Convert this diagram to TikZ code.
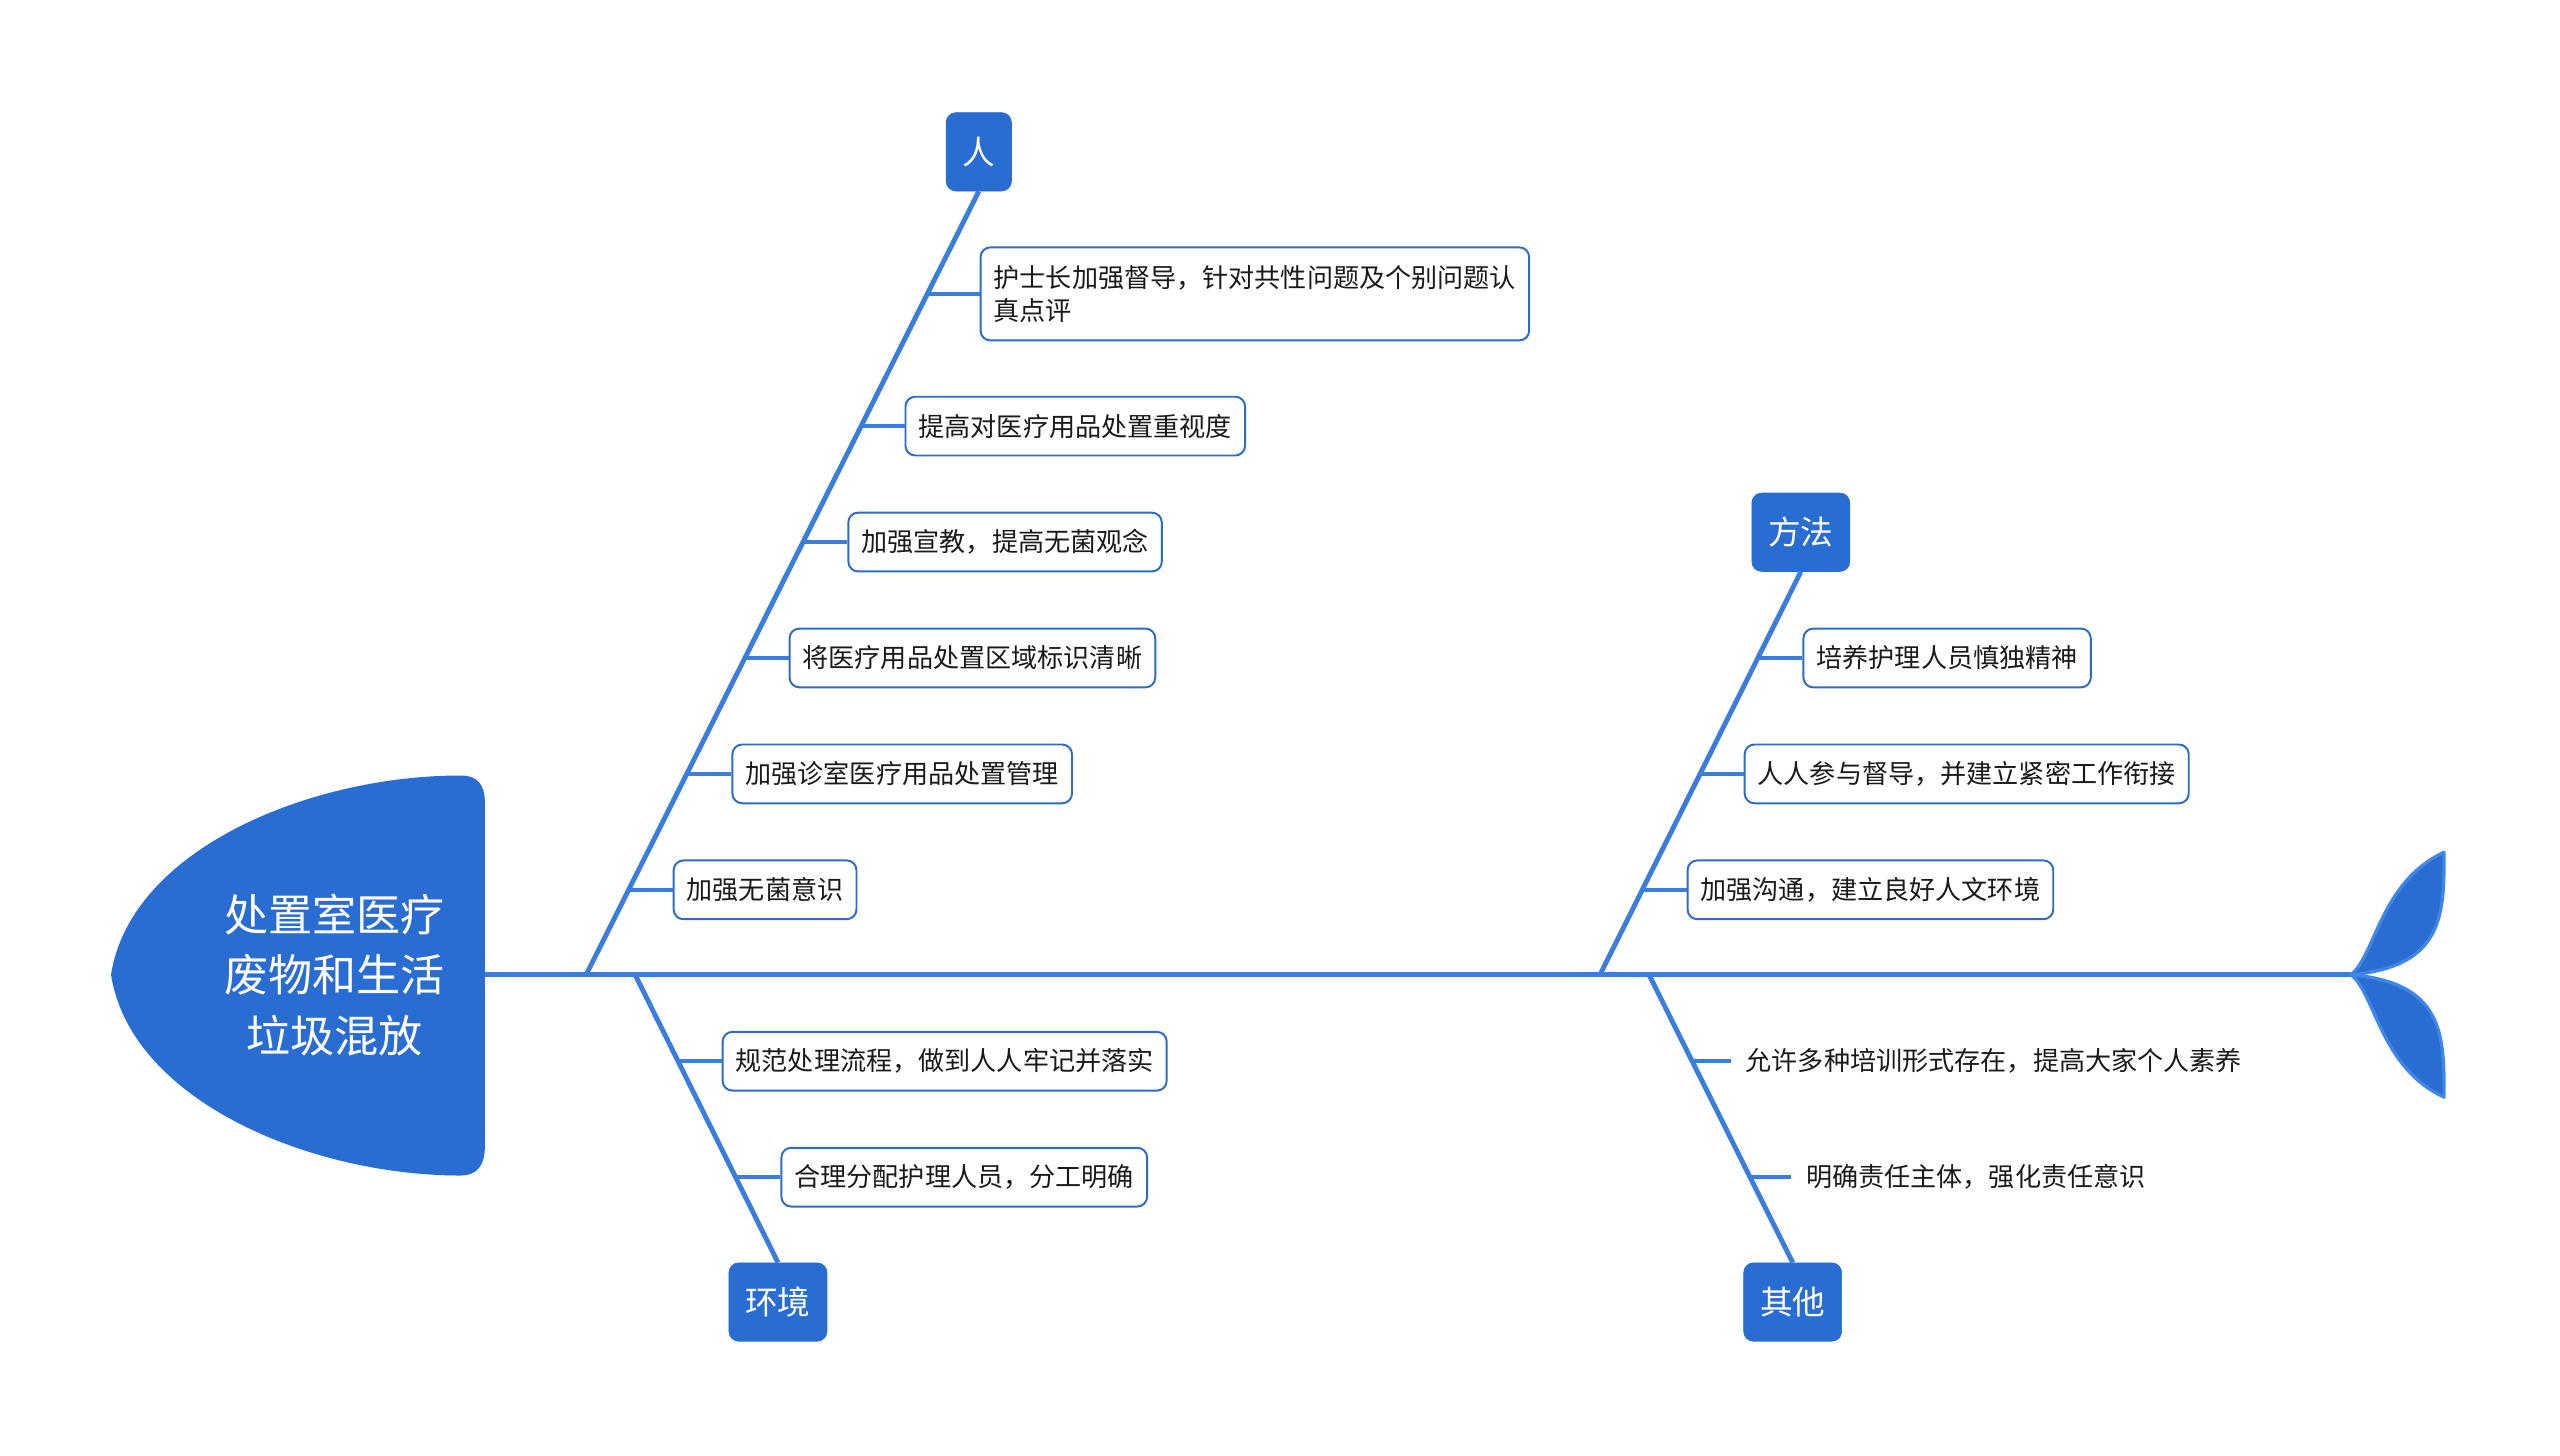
\documentclass[tikz,border=0pt]{standalone}
\usepackage{fontspec}
\setmainfont{Noto Sans CJK SC}
\definecolor{bonec}{HTML}{3B7DDB}
\definecolor{nodefill}{HTML}{2A6DD2}
\definecolor{boxline}{HTML}{2E6BC6}
\definecolor{finline}{HTML}{3F87E6}
\definecolor{txt}{HTML}{1A1A1A}
\begin{document}
\begin{tikzpicture}[x=1pt,y=-1pt,
  bone/.style={draw=bonec,line width=3pt},
  stub/.style={draw=bonec,line width=2.6pt},
  cat/.style={fill=nodefill,draw=nodefill,rounded corners=6pt,text=white,
    font=\fontsize{20pt}{24pt}\selectfont,minimum height=48pt,inner xsep=10pt,inner ysep=0pt},
  item/.style={draw=boxline,line width=1.2pt,fill=white,rounded corners=6pt,anchor=west,
    text=txt,font=\fontsize{16pt}{20pt}\selectfont,minimum height=36pt,inner xsep=8pt,inner ysep=0pt},
  plaintext/.style={anchor=west,text=txt,font=\fontsize{16pt}{20pt}\selectfont,inner xsep=9pt,inner ysep=0pt}
]
\useasboundingbox (0,0) rectangle (1568,891.2);

% head
\fill[nodefill] (68,597) .. controls (80,520) and (190,475) .. (282,475)
  .. controls (293,475) and (297,481) .. (297,492) -- (297,702)
  .. controls (297,713) and (293,720) .. (282,720)
  .. controls (190,720) and (80,674) .. (68,597) -- cycle;
\node[text=white,align=center,font=\fontsize{27pt}{37pt}\selectfont] (head) at (205,597)
  {处置室医疗\\废物和生活\\垃圾混放};

% spine
\coordinate (spineL) at (297,597);
\coordinate (J) at (1440,597);
\draw[bone] (spineL) -- (J);

% tail
\filldraw[fill=nodefill,draw=finline,line width=2pt,line join=round]
  (J) .. controls (1455,585) and (1458,540) .. (1497,522)
  .. controls (1497,560) and (1497,592) .. (J) -- cycle;
\filldraw[fill=nodefill,draw=finline,line width=2pt,line join=round]
  (J) .. controls (1455,609) and (1458,654) .. (1497,672)
  .. controls (1497,634) and (1497,602) .. (J) -- cycle;

% categories
\node[cat] (ren) at (599.5,93) {人};
\node[cat] (fangfa) at (1103,326) {方法};
\node[cat] (huanjing) at (476.5,797.5) {环境};
\node[cat] (qita) at (1098,797.5) {其他};

% bone bases
\coordinate (b1) at (359,597);
\coordinate (b2) at (389,597);
\coordinate (b3) at (980,597);
\coordinate (b4) at (1010,597);
\draw[bone] (b1) -- (ren.south);
\draw[bone] (b2) -- (huanjing.north);
\draw[bone] (b3) -- (fangfa.south);
\draw[bone] (b4) -- (qita.north);

% items
\node[item,align=left,minimum height=57pt] (i1) at (600,180)
  {护士长加强督导，针对共性问题及个别问题认\\真点评};
\node[item] (i2) at (554,261) {提高对医疗用品处置重视度};
\node[item] (i3) at (519,332) {加强宣教，提高无菌观念};
\node[item] (i4) at (483,403) {将医疗用品处置区域标识清晰};
\node[item] (i5) at (448,474) {加强诊室医疗用品处置管理};
\node[item] (i6) at (412,545) {加强无菌意识};
\node[item] (i7) at (442,650) {规范处理流程，做到人人牢记并落实};
\node[item] (i8) at (478,721) {合理分配护理人员，分工明确};
\node[item] (i9) at (1104,403) {培养护理人员慎独精神};
\node[item] (i10) at (1068,474) {人人参与督导，并建立紧密工作衔接};
\node[item] (i11) at (1033,545) {加强沟通，建立良好人文环境};
\node[plaintext] (p12) at (1060,650) {允许多种培训形式存在，提高大家个人素养};
\node[plaintext] (p13) at (1097,721) {明确责任主体，强化责任意识};

% stub points on bones
\coordinate (s1) at (568.4,180);
\coordinate (s2) at (527.7,261);
\coordinate (s3) at (492.1,332);
\coordinate (s4) at (456.4,403);
\coordinate (s5) at (420.8,474);
\coordinate (s6) at (385.1,545);
\coordinate (s7) at (415.4,650);
\coordinate (s8) at (450.7,721);
\coordinate (s9) at (1076.6,403);
\coordinate (s10) at (1041.3,474);
\coordinate (s11) at (1005.9,545);
\coordinate (s12) at (1036.5,650);
\coordinate (s13) at (1072,721);

\draw[stub] (s1) -- (i1.west);
\draw[stub] (s2) -- (i2.west);
\draw[stub] (s3) -- (i3.west);
\draw[stub] (s4) -- (i4.west);
\draw[stub] (s5) -- (i5.west);
\draw[stub] (s6) -- (i6.west);
\draw[stub] (s7) -- (i7.west);
\draw[stub] (s8) -- (i8.west);
\draw[stub] (s9) -- (i9.west);
\draw[stub] (s10) -- (i10.west);
\draw[stub] (s11) -- (i11.west);
\draw[stub] (s12) -- (p12.west);
\draw[stub] (s13) -- (p13.west);
\end{tikzpicture}
\end{document}
